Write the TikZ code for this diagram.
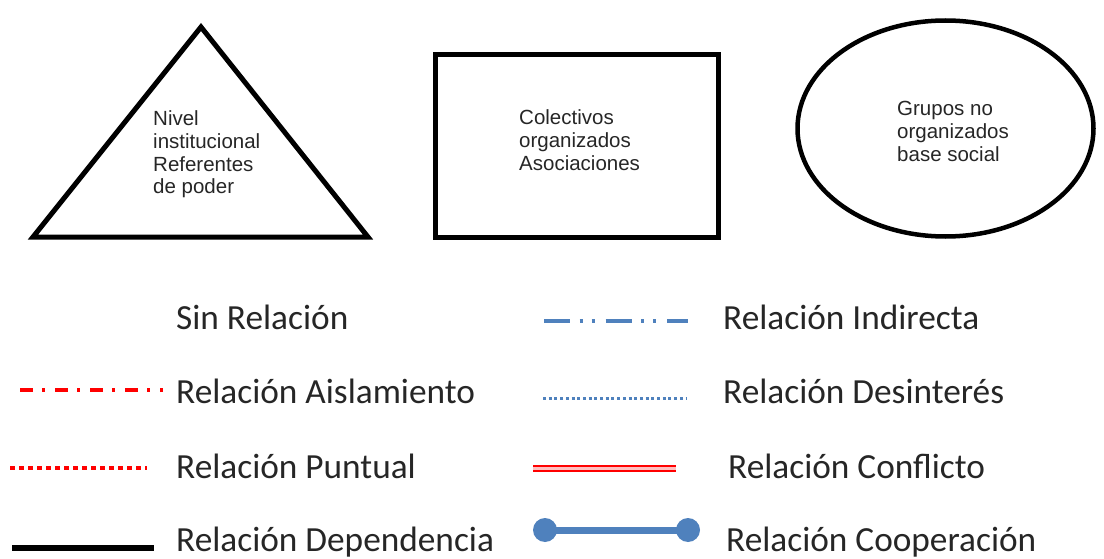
\documentclass[tikz,border=0pt]{standalone}
\usepackage{fontspec}
\setmainfont{Liberation Sans}
\newfontfamily\legendfont{Carlito}
\definecolor{legblue}{HTML}{4F81BD}
\definecolor{legred}{HTML}{FF0000}
\definecolor{txtgray}{HTML}{262626}
\begin{document}
\begin{tikzpicture}[x=1pt,y=-1pt,
  shapeline/.style={draw=black,line width=5pt},
  toptext/.style={font=\fontsize{20.5}{23}\selectfont,align=left,inner sep=0pt,anchor=base west,text=txtgray},
  legtext/.style={font=\legendfont\fontsize{35.3}{40}\selectfont,inner sep=0pt,anchor=base west,text=txtgray},
  aisl/.style={draw=legred,line width=4pt,dash pattern=on 13pt off 9pt on 2.5pt off 10.5pt},
  puntual/.style={draw=legred,line width=4pt,dash pattern=on 4.5pt off 4.5pt},
  depend/.style={draw=black,line width=6pt},
  indir/.style={draw=legblue,line width=3.5pt,dash pattern=on 26pt off 9.5pt on 3pt off 9pt on 3pt off 11pt},
  desint/.style={draw=legblue,line width=3pt,dash pattern=on 3pt off 2.7pt},
  conflict/.style={draw=legred,line width=2.2pt,double=red!25,double distance=2.6pt},
  coop/.style={draw=legblue,line width=7pt},
  coopdot/.style={fill=legblue}
]
\useasboundingbox (0,0) rectangle (1104,559);

% shapes
\draw[shapeline] (201,27) -- (368,237) -- (33,237) -- cycle;
\draw[shapeline] (435,55) rectangle (718,237);
\draw[draw=black,line width=4.5pt] (945.5,128.5) ellipse [x radius=148, y radius=108];

% texts (base anchor = baseline of the last line)
\node[toptext] (tri) at (153,194) {Nivel\\institucional\\Referentes\\de poder};
\node[toptext] (rect) at (519,171) {Colectivos\\organizados\\Asociaciones};
\node[toptext] (ell) at (897,162) {Grupos no\\organizados\\base social};

% legend texts
\node[legtext] (t1) at (176,329) {Sin Relación};
\node[legtext] (t2) at (176,403) {Relación Aislamiento};
\node[legtext] (t3) at (176,478) {Relación Puntual};
\node[legtext] (t4) at (176,551) {Relación Dependencia};
\node[legtext] (t5) at (723,329) {Relación Indirecta};
\node[legtext] (t6) at (723,403) {Relación Desinterés};
\node[legtext] (t7) at (728,478) {Relación Conflicto};
\node[legtext] (t8) at (726,551) {Relación Cooperación};

% legend lines
\coordinate (a1) at (20,390);  \coordinate (a2) at (163,390);
\coordinate (p1) at (10,468);  \coordinate (p2) at (147,468);
\coordinate (d1) at (12,548);  \coordinate (d2) at (154,548);
\coordinate (i1) at (544,321); \coordinate (i2) at (688,321);
\coordinate (s1) at (543,398); \coordinate (s2) at (687,398);
\coordinate (c1) at (533,468.5); \coordinate (c2) at (676,468.5);
\coordinate (o1) at (545,530); \coordinate (o2) at (688,530);

\draw[aisl] (a1) -- (a2);
\draw[puntual] (p1) -- (p2);
\draw[depend] (d1) -- (d2);
\draw[indir] (i1) -- (i2);
\draw[desint] (s1) -- (s2);
\draw[conflict] (c1) -- (c2);
\draw[coop] (o1) -- (o2);
\fill[coopdot] (o1) circle (12);
\fill[coopdot] (o2) circle (12);
\end{tikzpicture}
\end{document}
